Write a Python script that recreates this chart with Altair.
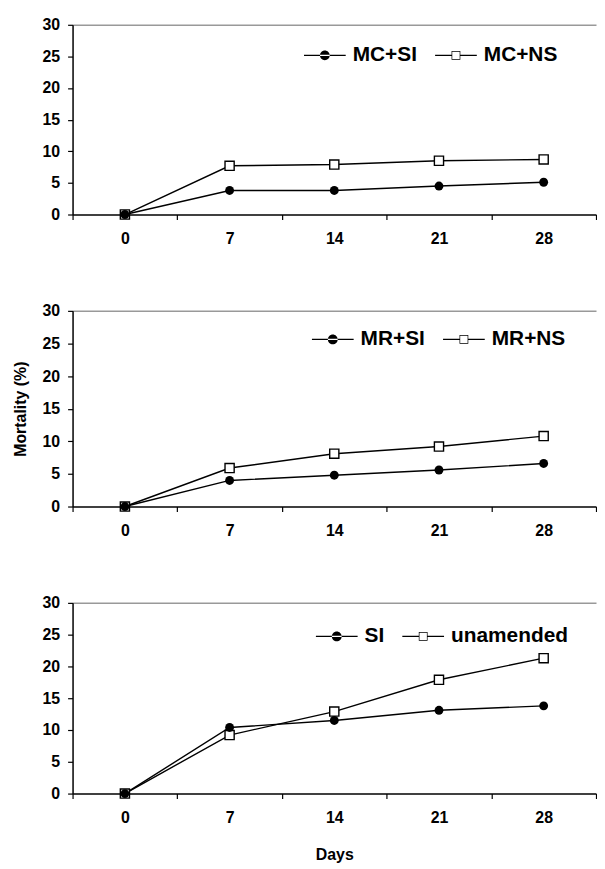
import altair as alt
import pandas as pd

days = [0, 7, 14, 21, 28]

panel1_names = ["MC+SI", "MC+NS"]
mc_si = [0, 3.8, 3.8, 4.5, 5.1]
mc_ns = [0, 7.7, 7.9, 8.5, 8.7]

panel2_names = ["MR+SI", "MR+NS"]
mr_si = [0, 4.0, 4.8, 5.6, 6.6]
mr_ns = [0, 5.9, 8.1, 9.2, 10.8]

panel3_names = ["SI", "unamended"]
si = [0, 10.4, 11.5, 13.1, 13.8]
unamended = [0, 9.2, 12.9, 17.9, 21.3]

y_ticks = [0, 5, 10, 15, 20, 25, 30]

FONT = "Liberation Sans"

# legend symbols (line + marker), drawn as filled shapes; units scale with sqrt(size)/2
PATH_CIRCLE = ("M-1,-0.06H3V0.06H-1Z "
               "M0.53,0A0.47,0.47 0 1,0 1.47,0A0.47,0.47 0 1,0 0.53,0Z")
PATH_SQUARE = ("M-1,-0.06H0.58V0.06H-1Z M1.42,-0.06H3V0.06H1.42Z "
               "M0.58,-0.42H1.42V0.42H0.58Z M0.645,-0.355V0.355H1.355V-0.355Z")

W = 527


def make_panel(a_vals, b_vals, names, legend_x, legend_y, show_ytitle, show_xtitle, height):
    a_name, b_name = names
    df = pd.DataFrame({
        "day": days + days,
        "value": a_vals + b_vals,
        "series": [a_name] * len(days) + [b_name] * len(days),
    })
    base = alt.Chart(df).encode(
        x=alt.X("day:O", sort=days, bandPosition=0.5,
                scale=alt.Scale(type="band", paddingInner=0, paddingOuter=0),
                axis=alt.Axis(title="Days" if show_xtitle else None,
                              labelAngle=0, tickBand="extent", tickSize=5,
                              labelPadding=11, titlePadding=21,
                              labelFont=FONT, labelFontSize=16, labelFontWeight="bold",
                              labelColor="black",
                              titleFont=FONT, titleFontSize=16, titleFontWeight="bold",
                              titleColor="black",
                              domainColor="black", domainWidth=1.5,
                              tickColor="black", tickWidth=1.2)),
        y=alt.Y("value:Q", scale=alt.Scale(domain=[0, 30], nice=False, zero=True),
                axis=alt.Axis(title="Mortality (%)", values=y_ticks,
                              titleOpacity=1 if show_ytitle else 0,
                              tickSize=5, labelPadding=8, titlePadding=14,
                              labelFont=FONT, labelFontSize=16, labelFontWeight="bold",
                              labelColor="black",
                              titleFont=FONT, titleFontSize=16, titleFontWeight="bold",
                              titleColor="black",
                              domainColor="black", domainWidth=1.5,
                              tickColor="black", tickWidth=1.2,
                              grid=True, gridColor="#999999", gridWidth=1.5,
                              gridOpacity={"condition": {"test": "datum.value === 30", "value": 1},
                                           "value": 0})),
    )
    lines = base.mark_line(color="black", strokeWidth=1.4).encode(detail="series:N")
    squares = base.transform_filter(alt.datum.series == b_name).mark_square(
        color="white", stroke="black", strokeWidth=1.4, size=85, opacity=1)
    circles = base.transform_filter(alt.datum.series == a_name).mark_circle(
        color="black", size=80, opacity=1)
    legend_layer = base.mark_point(filled=True, opacity=0, size=441, color="black",
                                   strokeWidth=0).encode(
        shape=alt.Shape("series:N", sort=[a_name, b_name],
                        scale=alt.Scale(domain=[a_name, b_name],
                                        range=[PATH_CIRCLE, PATH_SQUARE]),
                        legend=alt.Legend(title=None, orient="none",
                                          legendX=legend_x, legendY=legend_y,
                                          direction="horizontal",
                                          labelFontSize=21, labelFontWeight="bold",
                                          labelFont=FONT, labelColor="black",
                                          symbolSize=441, symbolOpacity=1,
                                          symbolStrokeWidth=0, symbolFillColor="black",
                                          labelOffset=28, columnPadding=18, padding=0)),
    )
    return alt.layer(lines, squares, circles, legend_layer).properties(width=W, height=height)


p1 = make_panel(mc_si, mc_ns, panel1_names, 233, 20, False, False, 191)
p2 = make_panel(mr_si, mr_ns, panel2_names, 241, 18, True, False, 197)
p3 = make_panel(si, unamended, panel3_names, 245, 23, False, True, 192)

chart = alt.vconcat(p1, p2, p3, spacing=57).resolve_scale(
    shape="independent", x="independent", y="independent"
).resolve_legend(shape="independent").properties(
    padding={"top": 6, "left": 4, "right": 0, "bottom": 0},
    background="white",
).configure_view(stroke=None)

chart.save("out.html", embed_options={"renderer": "svg", "actions": False})
